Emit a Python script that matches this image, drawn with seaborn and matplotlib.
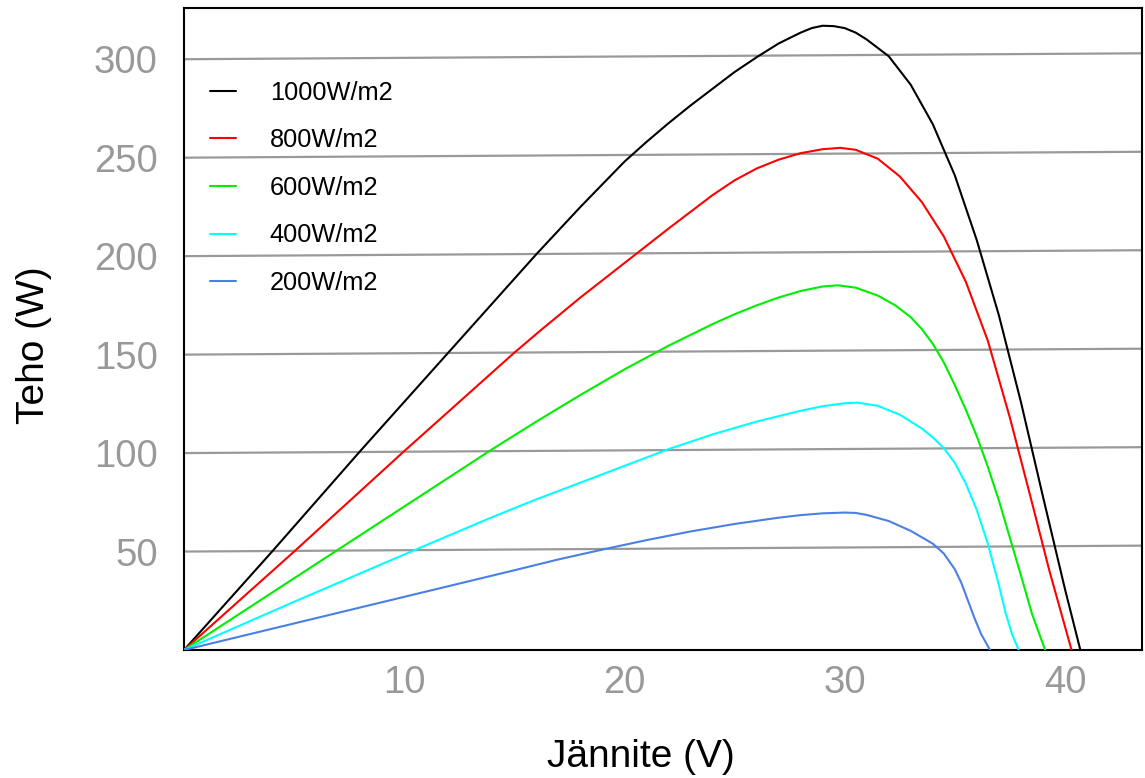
import numpy as np
import pandas as pd
import matplotlib
matplotlib.use("Agg")
import matplotlib.pyplot as plt
import seaborn as sns

# Power (W) against voltage (V) for five irradiance levels
v_1000 = [0, 4, 8, 12, 14, 16, 18, 20, 21, 22, 23, 24, 25, 26, 27, 28, 28.5, 29, 29.5, 30, 30.5, 31, 32, 33, 34, 35, 36, 37, 38, 39, 40, 40.7]
p_1000 = [0, 50, 101, 151, 176, 201, 225, 248, 258, 267.5, 276.5, 285, 293.5, 301, 308, 313.5, 315.8, 317, 316.8, 315.8, 313.5, 310, 301.5, 287, 267, 241, 208, 170, 126, 78, 31, 0]

v_800 = [0, 5, 10, 15, 16.2, 18, 20, 22, 23, 24, 25, 26, 27, 28, 29, 29.8, 30.5, 31.5, 32.5, 33.5, 34.5, 35.5, 36.5, 37.5, 38.5, 39.3, 40, 40.3]
p_800 = [0, 50, 101, 151, 162.4, 179, 196.5, 214, 222.5, 231, 238.5, 244.5, 249, 252.3, 254.3, 255, 254, 249.5, 240.5, 227.5, 210, 187, 157, 118, 75, 40, 12, 0]

v_600 = [0, 7, 14, 16, 18, 20, 22, 24, 25, 26, 27, 28, 29, 29.7, 30.5, 31.5, 32.3, 33, 33.5, 34, 34.5, 35, 35.5, 36, 36.5, 37, 37.5, 38, 38.5, 39.1]
p_600 = [0, 51, 102, 116, 129.5, 142.5, 154.5, 165.5, 170.5, 175, 179, 182.3, 184.6, 185.2, 184, 180, 175, 169, 163, 155.5, 146, 134.5, 122, 108.5, 93, 76, 57, 38, 18.5, 0]

v_400 = [0, 5, 10, 12, 14, 16, 18, 20, 22, 24, 26, 28, 29, 30, 30.6, 31.5, 32.5, 33.5, 34, 34.5, 35, 35.5, 36, 36.5, 37, 37.3, 37.6, 37.9]
p_400 = [0, 24.5, 48.5, 58, 67.5, 76.5, 85, 93.5, 102, 109.5, 116, 121.5, 123.8, 125.3, 125.6, 124, 119.5, 112.5, 108, 102.5, 95, 84.5, 71, 54, 33, 19, 8, 0]

v_200 = [0, 5, 10, 15, 17, 19, 21, 23, 25, 27, 28, 29, 30, 30.5, 31, 32, 33, 34, 34.5, 35, 35.3, 35.6, 35.9, 36.2, 36.6]
p_200 = [0, 13.5, 27, 40.5, 46, 51, 55.8, 60.2, 64, 67.2, 68.5, 69.4, 69.8, 69.6, 68.6, 65.5, 60.5, 54, 49, 41, 34, 25, 16, 8, 0]

labels = ["1000W/m2", "800W/m2", "600W/m2", "400W/m2", "200W/m2"]
colors = ["#000000", "#ff0000", "#00ee00", "#00ffff", "#4a80e6"]
x_ticks = [10, 20, 30, 40]
y_ticks = [50, 100, 150, 200, 250, 300]

series = [(v_1000, p_1000), (v_800, p_800), (v_600, p_600), (v_400, p_400), (v_200, p_200)]
frames = []
for lab, (v, p) in zip(labels, series):
    frames.append(pd.DataFrame({"V": v, "P": p, "irr": lab}))
df = pd.concat(frames, ignore_index=True)

sns.set_style("white")
plt.rcParams["font.family"] = ["Liberation Sans", "DejaVu Sans"]
plt.rcParams["text.color"] = "black"

fig = plt.figure(figsize=(11.45, 7.78), dpi=100)
ax = fig.add_axes([0.1607, 0.1645, 0.8367, 0.8252])

x_max = 43.5
y_max = 326
tilt = 3.0  # the grid lines in the original rise a little to the right
for val in y_ticks:
    ax.plot([0, x_max], [val, val + tilt], color="#999999", lw=1.6, zorder=1)

sns.lineplot(data=df, x="V", y="P", hue="irr", hue_order=labels,
             palette=dict(zip(labels, colors)), sort=False, estimator=None,
             units="irr", lw=1.5, ax=ax, zorder=3)

ax.set_xlim(0, x_max)
ax.set_ylim(0, y_max)
ax.set_xticks(x_ticks)
ax.set_yticks(y_ticks)
ax.tick_params(axis="x", direction="in", length=12.5, width=1.5, color="black",
               labelsize=27.5, labelcolor="#999999", pad=11)
ax.tick_params(axis="y", length=0, labelsize=27.5, labelcolor="#999999", pad=19)
for sp in ax.spines.values():
    sp.set_color("black")
    sp.set_linewidth(1.5)

ax.set_xlabel("Jännite (V)", fontsize=28, color="black")
ax.set_ylabel("Teho (W)", fontsize=28, color="black")
ax.xaxis.set_label_coords(0.477, -0.138)
ax.yaxis.set_label_coords(-0.138, 0.475)

handles, labs = ax.get_legend_handles_labels()
leg = ax.legend(handles, labs, loc="upper left", bbox_to_anchor=(0.027, 0.887),
                frameon=False, fontsize=18.3, handlelength=1.02, handletextpad=1.34,
                labelspacing=0.93, borderpad=0, borderaxespad=0)
for line in leg.get_lines():
    line.set_linewidth(1.5)
for txt in leg.get_texts():
    txt.set_color("black")

fig.savefig("out.png", dpi=100)
